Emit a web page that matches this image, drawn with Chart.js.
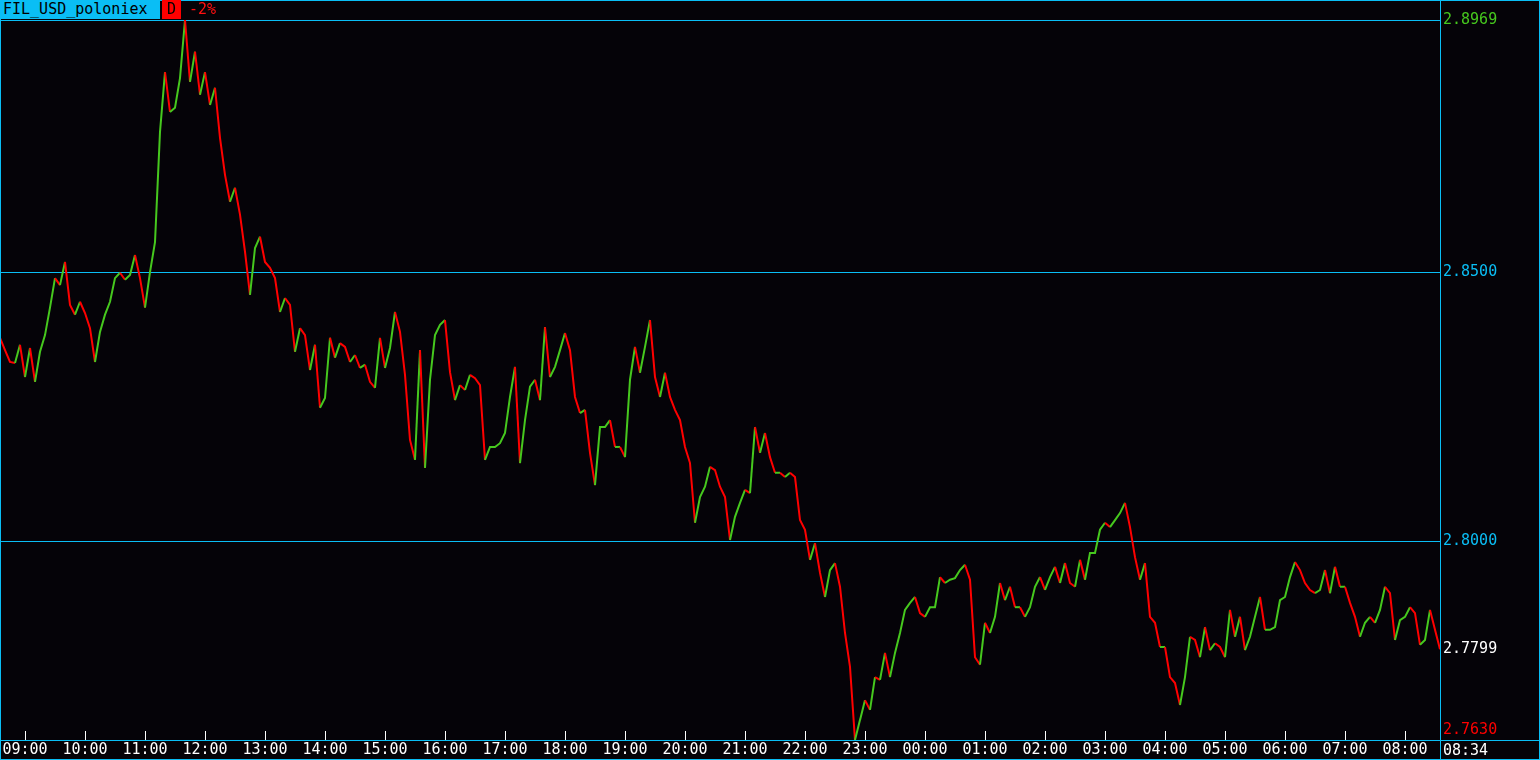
<!DOCTYPE html>
<html>
<head>
<meta charset="utf-8">
<title>FIL_USD_poloniex</title>
<script src="https://cdn.jsdelivr.net/npm/chart.js@4.4.1/dist/chart.umd.min.js"></script>
<style>
  html, body { margin: 0; padding: 0; background: #050308; }
  #wrap { position: relative; width: 1540px; height: 760px; overflow: hidden; }
  #chart { position: absolute; left: 0; top: 0; }
  .hdr {
    position: absolute; top: 0; height: 19px; line-height: 19px;
    font: 15px 'DejaVu Sans Mono', monospace; white-space: pre;
  }
</style>
</head>
<body>
<div id="wrap">
  <canvas id="chart" width="1540" height="760"></canvas>
  <div class="hdr" style="left:0;width:160px;padding-left:3px;box-sizing:border-box;background:#0abef5;color:#000;">FIL_USD_poloniex</div>
  <div class="hdr" style="left:162px;width:19px;text-align:center;background:#ff0000;color:#000;">D</div>
  <div class="hdr" style="left:189px;color:#ff1010;">-2%</div>
</div>
<script>
// ─── Data (5-minute samples, 08:35 → 08:34) ──────────────────────────────────

const symbol    = 'FIL_USD_poloniex';
const startTime = '08:35';
const lastTime  = '08:34';
const stepMin   = 5;

const hourTicks = [
  '09:00', '10:00', '11:00', '12:00', '13:00', '14:00', '15:00', '16:00',
  '17:00', '18:00', '19:00', '20:00', '21:00', '22:00', '23:00', '00:00',
  '01:00', '02:00', '03:00', '04:00', '05:00', '06:00', '07:00', '08:00',
];

const prices = [
  2.8378, 2.8355, 2.8333, 2.8331, 2.8365,
  2.8305, 2.8359, 2.8296, 2.8352, 2.8383, 2.8434, 2.8489, 2.8476, 2.8519, 2.8439, 2.8421, 2.8445, // 09
  2.8424, 2.8396, 2.8333, 2.8389, 2.8421, 2.8445, 2.8489, 2.8499, 2.8486, 2.8495, 2.8532, 2.8489, // 10
  2.8434, 2.8500, 2.8556, 2.8761, 2.8872, 2.8798, 2.8806, 2.8861, 2.8969, 2.8854, 2.8910, 2.8830, // 11
  2.8872, 2.8811, 2.8843, 2.8750, 2.8681, 2.8631, 2.8657, 2.8607, 2.8538, 2.8458, 2.8545, 2.8566, // 12
  2.8519, 2.8508, 2.8489, 2.8426, 2.8452, 2.8439, 2.8352, 2.8396, 2.8383, 2.8318, 2.8365, 2.8248, // 13
  2.8266, 2.8378, 2.8341, 2.8368, 2.8361, 2.8333, 2.8346, 2.8322, 2.8328, 2.8296, 2.8285, 2.8378, // 14
  2.8322, 2.8359, 2.8426, 2.8389, 2.8309, 2.8188, 2.8151, 2.8355, 2.8136, 2.8300, 2.8383, 2.8402, // 15
  2.8411, 2.8314, 2.8262, 2.8290, 2.8281, 2.8309, 2.8303, 2.8290, 2.8151, 2.8175, 2.8175, 2.8182, // 16
  2.8201, 2.8268, 2.8324, 2.8145, 2.8225, 2.8287, 2.8300, 2.8262, 2.8398, 2.8305, 2.8324, 2.8355, // 17
  2.8387, 2.8355, 2.8268, 2.8238, 2.8244, 2.8164, 2.8104, 2.8212, 2.8212, 2.8225, 2.8175, 2.8175, // 18
  2.8156, 2.8300, 2.8361, 2.8313, 2.8361, 2.8411, 2.8305, 2.8268, 2.8313, 2.8268, 2.8244, 2.8225, // 19
  2.8175, 2.8145, 2.8034, 2.8082, 2.8101, 2.8138, 2.8132, 2.8101, 2.8082, 2.8002, 2.8045, 2.8071, // 20
  2.8095, 2.8089, 2.8212, 2.8164, 2.8201, 2.8156, 2.8127, 2.8127, 2.8119, 2.8127, 2.8119, 2.8039, // 21
  2.8021, 2.7965, 2.7996, 2.7941, 2.7896, 2.7946, 2.7959, 2.7915, 2.7829, 2.7766, 2.7630, 2.7667, // 22
  2.7704, 2.7686, 2.7747, 2.7742, 2.7792, 2.7747, 2.7792, 2.7829, 2.7872, 2.7885, 2.7896, 2.7866, // 23
  2.7859, 2.7877, 2.7877, 2.7933, 2.7922, 2.7928, 2.7931, 2.7946, 2.7956, 2.7928, 2.7784, 2.7770, // 00
  2.7848, 2.7829, 2.7859, 2.7922, 2.7890, 2.7915, 2.7877, 2.7877, 2.7859, 2.7877, 2.7915, 2.7933, // 01
  2.7909, 2.7933, 2.7952, 2.7922, 2.7959, 2.7922, 2.7915, 2.7965, 2.7928, 2.7978, 2.7978, 2.8021, // 02
  2.8034, 2.8026, 2.8039, 2.8052, 2.8071, 2.8026, 2.7970, 2.7928, 2.7959, 2.7859, 2.7848, 2.7803, // 03
  2.7803, 2.7747, 2.7736, 2.7695, 2.7747, 2.7822, 2.7816, 2.7784, 2.7840, 2.7797, 2.7810, 2.7803, // 04
  2.7784, 2.7872, 2.7822, 2.7859, 2.7797, 2.7822, 2.7859, 2.7896, 2.7835, 2.7835, 2.7840, 2.7890, // 05
  2.7896, 2.7933, 2.7961, 2.7946, 2.7922, 2.7909, 2.7903, 2.7909, 2.7946, 2.7903, 2.7952, 2.7915, // 06
  2.7915, 2.7885, 2.7859, 2.7822, 2.7848, 2.7859, 2.7848, 2.7872, 2.7915, 2.7903, 2.7816, 2.7853, // 07
  2.7859, 2.7877, 2.7866, 2.7807, 2.7816, 2.7872, 2.7835, 2.7799,                                 // 08
];

// price levels with a grid line across the plot
const gridLevels = [2.8969, 2.8500, 2.8000];

// ─── Style ────────────────────────────────────────────────────────────────────

const COLORS = {
  bg:    '#050308',
  cyan:  '#0abef5',
  up:    '#46c81e',
  down:  '#ff0000',
  text:  '#ffffff',
};
const FONT_FAMILY = "'DejaVu Sans Mono', monospace";
const FONT_SIZE   = 15;

// ─── Derived ──────────────────────────────────────────────────────────────────

const lowPrice  = Math.min(...prices);
const highPrice = Math.max(...prices);
const lastPrice = prices[prices.length - 1];

function fmtTime(mins) {
  const m = ((mins % 1440) + 1440) % 1440;
  return String(Math.floor(m / 60)).padStart(2, '0') + ':' + String(m % 60).padStart(2, '0');
}
const [sh, sm] = startTime.split(':').map(Number);
const timeLabels = prices.map((_, i) => fmtTime(sh * 60 + sm + i * stepMin));
timeLabels[timeLabels.length - 1] = lastTime;

const axisLevels = [lastPrice, ...gridLevels];

function levelColor(v) {
  if (v === highPrice) return COLORS.up;
  if (v === lastPrice) return COLORS.text;
  return COLORS.cyan;
}

// ─── Plugin: terminal frame, hour marks, low / time labels ───────────────────

const terminalFrame = {
  id: 'terminalFrame',
  beforeDraw(chart) {
    const { ctx, width, height } = chart;
    ctx.save();
    ctx.fillStyle = COLORS.bg;
    ctx.fillRect(0, 0, width, height);
    ctx.restore();
  },
  afterDraw(chart) {
    const { ctx, chartArea: a, width, height, scales: { x, y } } = chart;
    ctx.save();
    ctx.lineWidth = 1;
    ctx.strokeStyle = COLORS.cyan;
    ctx.beginPath();
    ctx.moveTo(0.5, 0);              ctx.lineTo(0.5, height);
    ctx.moveTo(width - 0.5, 0);      ctx.lineTo(width - 0.5, height);
    ctx.moveTo(0, 0.5);              ctx.lineTo(width, 0.5);
    ctx.moveTo(0, height - 0.5);     ctx.lineTo(width, height - 0.5);
    ctx.moveTo(a.right + 0.5, 0);    ctx.lineTo(a.right + 0.5, height);
    ctx.moveTo(0, a.bottom + 0.5);   ctx.lineTo(width, a.bottom + 0.5);
    ctx.stroke();

    // short white hour marks sitting on the time axis
    ctx.strokeStyle = COLORS.text;
    ctx.beginPath();
    x.ticks.forEach((t, i) => {
      const px = Math.round(x.getPixelForTick(i)) + 0.5;
      ctx.moveTo(px, a.bottom - 9);
      ctx.lineTo(px, a.bottom);
    });
    ctx.stroke();

    ctx.font = `${FONT_SIZE}px ${FONT_FAMILY}`;
    ctx.textAlign = 'left';
    ctx.textBaseline = 'middle';
    ctx.fillStyle = COLORS.down;
    ctx.fillText(lowPrice.toFixed(4), a.right + 3, y.getPixelForValue(lowPrice) - 10);
    ctx.fillStyle = COLORS.text;
    ctx.fillText(lastTime, a.right + 3, (a.bottom + height) / 2 + 1);
    ctx.restore();
  },
};

// ─── Chart ────────────────────────────────────────────────────────────────────

new Chart(document.getElementById('chart'), {
  type: 'line',
  data: {
    labels: timeLabels,
    datasets: [{
      label: symbol,
      data: prices,
      borderWidth: 2,
      borderColor: COLORS.up,
      pointRadius: 0,
      tension: 0,
      segment: {
        borderColor: c => (c.p1.parsed.y >= c.p0.parsed.y ? COLORS.up : COLORS.down),
      },
    }],
  },
  options: {
    responsive: false,
    animation: false,
    events: [],
    layout: { padding: { top: 20, left: 0, right: 0, bottom: 0 } },
    plugins: {
      legend:  { display: false },
      tooltip: { enabled: false },
    },
    scales: {
      x: {
        type: 'category',
        offset: false,
        grid:   { display: false, drawTicks: false },
        border: { display: false },
        afterBuildTicks(scale) {
          scale.ticks = scale.ticks.filter(t => hourTicks.includes(timeLabels[t.value]));
        },
        afterFit(scale) { scale.height = 20; },
        ticks: {
          autoSkip: false,
          maxRotation: 0,
          padding: 1,
          color: COLORS.text,
          font: { family: FONT_FAMILY, size: FONT_SIZE },
        },
      },
      y: {
        position: 'right',
        min: lowPrice,
        max: highPrice,
        afterBuildTicks(scale) {
          scale.ticks = axisLevels.map(v => ({ value: v }));
        },
        afterFit(scale) { scale.width = 100; },
        border: { display: false },
        grid: {
          drawTicks: false,
          lineWidth: 1,
          color: c => (gridLevels.includes(c.tick && c.tick.value) ? COLORS.cyan : 'rgba(0,0,0,0)'),
        },
        ticks: {
          padding: 3,
          callback: v => Number(v).toFixed(4),
          color: c => levelColor(c.tick.value),
          font: { family: FONT_FAMILY, size: FONT_SIZE },
        },
      },
    },
  },
  plugins: [terminalFrame],
});
</script>
</body>
</html>
